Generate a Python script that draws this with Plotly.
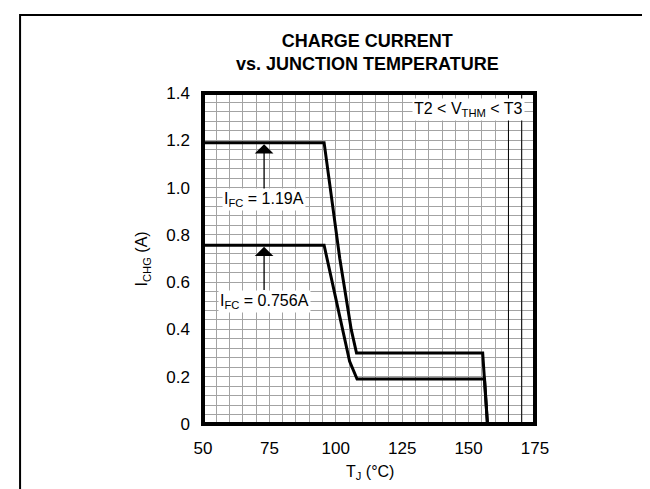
import plotly.graph_objects as go

# curves (T in degC, I in A)
temp_119 = [50, 95.6, 101.5, 105.8, 107.8, 155.3, 157.1]
ichg_119 = [1.19, 1.19, 0.70, 0.40, 0.30, 0.30, 0.0]
temp_756 = [50, 95.6, 105.2, 108.0, 156.0, 157.1]
ichg_756 = [0.756, 0.756, 0.265, 0.19, 0.19, 0.0]

x_ticks = [50, 75, 100, 125, 150, 175]
y_ticks = [0, 0.2, 0.4, 0.6, 0.8, 1.0, 1.2, 1.4]
y_labels = ["0", "0.2", "0.4", "0.6", "0.8", "1.0", "1.2", "1.4"]
limit_temps = [165, 170]

FONT = "Liberation Sans Narrow, Arial Narrow, Liberation Sans, Arial, sans-serif"
GRID = "#a3a3a3"

fig = go.Figure()
for xs, ys in [(temp_119, ichg_119), (temp_756, ichg_756)]:
    fig.add_trace(go.Scatter(x=xs, y=ys, mode="lines",
                             line=dict(color="black", width=3),
                             showlegend=False, hoverinfo="skip"))

shapes = []
for t in limit_temps:
    shapes.append(dict(type="line", xref="x", yref="y", x0=t, x1=t, y0=0, y1=1.4,
                       line=dict(color="black", width=1), layer="above"))
# plot frame
shapes.append(dict(type="rect", xref="paper", yref="paper", x0=0, x1=1, y0=0, y1=1,
                   line=dict(color="black", width=4), layer="above"))
# page border
shapes.append(dict(type="rect", xref="paper", yref="paper",
                   x0=-0.551, x1=1.364, y0=-0.3, y1=1.2356,
                   line=dict(color="black", width=2), layer="above"))

ann_font = dict(family=FONT, size=16, color="black")
annotations = [
    dict(x=73, y=1.19, ax=73, ay=0.95, xref="x", yref="y", axref="x", ayref="y",
         text="I<sub>FC</sub> = 1.19A", showarrow=True, arrowhead=1, arrowsize=2.4,
         arrowwidth=1.3, arrowcolor="black", standoff=1.5, bgcolor="white",
         borderpad=1, font=ann_font),
    dict(x=73, y=0.756, ax=73, ay=0.52, xref="x", yref="y", axref="x", ayref="y",
         text="I<sub>FC</sub> = 0.756A", showarrow=True, arrowhead=1, arrowsize=2.4,
         arrowwidth=1.3, arrowcolor="black", standoff=1.5, bgcolor="white",
         borderpad=1, font=ann_font),
    dict(x=171.3, y=1.33, xref="x", yref="y", xanchor="right", yanchor="middle",
         text="T2 &lt; V<sub>THM</sub> &lt; T3", showarrow=False, bgcolor="white",
         borderpad=1, font=ann_font),
    # axis titles
    dict(x=-0.181, y=0.5, xref="paper", yref="paper", xanchor="center",
         yanchor="middle", textangle=-90,
         text="I<sub>CHG</sub> (A)", showarrow=False, font=ann_font),
    dict(x=0.503, y=-0.148, xref="paper", yref="paper", xanchor="center",
         yanchor="middle", text="T<sub>J</sub> (°C)", showarrow=False, font=ann_font),
    # title
    dict(x=0.495, y=1.121, xref="paper", yref="paper", xanchor="center",
         yanchor="middle",
         text="<b>CHARGE CURRENT</b><br><b>vs. JUNCTION TEMPERATURE</b>",
         showarrow=False, font=dict(family=FONT, size=18, color="black")),
]

fig.update_layout(
    width=650, height=489,
    margin=dict(l=195, r=123, t=85, b=73),
    paper_bgcolor="white", plot_bgcolor="white",
    shapes=shapes, annotations=annotations,
    font=dict(family=FONT, size=16, color="black"),
)
fig.update_xaxes(range=[50, 175], tickvals=x_ticks, showgrid=True, gridcolor=GRID,
                 gridwidth=1, zeroline=False, ticks="", ticklabelstandoff=12,
                 tickfont=dict(size=17),
                 minor=dict(tick0=50, dtick=5, showgrid=True, gridcolor=GRID, gridwidth=1))
fig.update_yaxes(range=[0, 1.4], tickvals=y_ticks, ticktext=y_labels, showgrid=True,
                 gridcolor=GRID, gridwidth=1, zeroline=False, ticks="",
                 ticklabelstandoff=12, tickfont=dict(size=17),
                 minor=dict(tick0=0, dtick=0.04, showgrid=True, gridcolor=GRID, gridwidth=1))

fig.write_html("out.html")
